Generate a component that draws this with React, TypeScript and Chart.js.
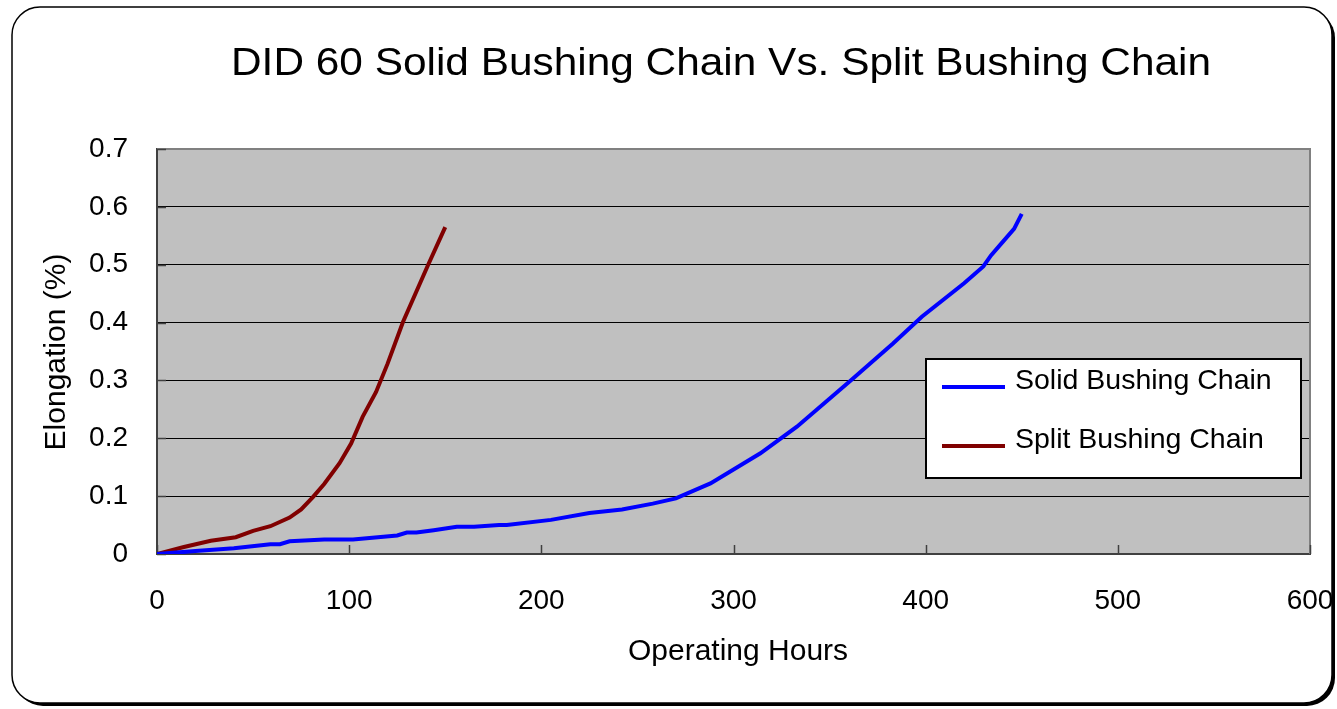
import React, { useEffect, useRef } from "react";
import { Chart, registerables } from "chart.js";

Chart.register(...registerables);

const chartTitle = "DID 60 Solid Bushing Chain Vs. Split Bushing Chain";
const xAxisTitle = "Operating Hours";
const yAxisTitle = "Elongation (%)";

const solidLabel = "Solid Bushing Chain";
const splitLabel = "Split Bushing Chain";

const solidHours = [0, 20, 40, 59, 64, 69, 87, 102, 125, 130, 135, 144, 156, 165, 178, 182, 205, 225, 242, 258, 270, 288, 314, 333, 361, 383, 398, 420, 430, 434, 440, 446, 450];
const solidElong = [0, 0.005, 0.01, 0.017, 0.017, 0.022, 0.025, 0.025, 0.032, 0.037, 0.037, 0.041, 0.047, 0.047, 0.05, 0.05, 0.059, 0.071, 0.077, 0.087, 0.096, 0.122, 0.174, 0.22, 0.3, 0.364, 0.41, 0.468, 0.497, 0.516, 0.539, 0.562, 0.588];

const splitHours = [0, 14, 28, 41, 50, 59, 69, 75, 81, 87, 95, 101, 107, 114, 120, 128, 141, 150];
const splitElong = [0, 0.012, 0.023, 0.029, 0.04, 0.048, 0.063, 0.077, 0.098, 0.121, 0.157, 0.191, 0.237, 0.28, 0.329, 0.401, 0.499, 0.565];

const xMin = 0;
const xMax = 600;
const xStep = 100;
const yMin = 0;
const yMax = 0.7;
const yStep = 0.1;

const FONT = '"Liberation Sans", Arial, sans-serif';
const W = 1337;
const H = 709;

function roundRect(ctx: CanvasRenderingContext2D, x: number, y: number, w: number, h: number, r: number) {
  ctx.beginPath();
  ctx.moveTo(x + r, y);
  ctx.lineTo(x + w - r, y);
  ctx.arcTo(x + w, y, x + w, y + r, r);
  ctx.lineTo(x + w, y + h - r);
  ctx.arcTo(x + w, y + h, x + w - r, y + h, r);
  ctx.lineTo(x + r, y + h);
  ctx.arcTo(x, y + h, x, y + h - r, r);
  ctx.lineTo(x, y + r);
  ctx.arcTo(x, y, x + r, y, r);
  ctx.closePath();
}

const decorPlugin = {
  id: "decor",
  beforeDraw(chart: any) {
    const ctx = chart.ctx as CanvasRenderingContext2D;
    const area = chart.chartArea;
    ctx.save();
    ctx.fillStyle = "#ffffff";
    ctx.fillRect(0, 0, W, H);
    ctx.fillStyle = "#000000";
    roundRect(ctx, 15, 10, 1320, 696, 28);
    ctx.fill();
    roundRect(ctx, 12, 7, 1320, 696, 28);
    ctx.fillStyle = "#ffffff";
    ctx.fill();
    ctx.lineWidth = 1.5;
    ctx.strokeStyle = "#000000";
    ctx.stroke();
    ctx.fillStyle = "#c0c0c0";
    ctx.fillRect(area.left, area.top, area.right - area.left, area.bottom - area.top);
    ctx.restore();
  },
  beforeDatasetsDraw(chart: any) {
    const ctx = chart.ctx as CanvasRenderingContext2D;
    const area = chart.chartArea;
    const xs = chart.scales.x;
    const ys = chart.scales.y;
    ctx.save();
    ctx.strokeStyle = "#808080";
    ctx.lineWidth = 2;
    ctx.beginPath();
    ctx.moveTo(area.left, area.top);
    ctx.lineTo(area.right, area.top);
    ctx.lineTo(area.right, area.bottom);
    ctx.stroke();
    ctx.strokeStyle = "#404040";
    ctx.lineWidth = 1.5;
    ctx.beginPath();
    xs.ticks.forEach((t: any) => {
      const px = Math.round(xs.getPixelForValue(t.value)) + 0.5;
      ctx.moveTo(px, area.bottom);
      ctx.lineTo(px, area.bottom - 9);
    });
    ys.ticks.forEach((t: any) => {
      const py = Math.round(ys.getPixelForValue(t.value)) + 0.5;
      ctx.moveTo(area.left, py);
      ctx.lineTo(area.left + 9, py);
    });
    ctx.stroke();
    ctx.restore();
  },
  afterDraw(chart: any) {
    const ctx = chart.ctx as CanvasRenderingContext2D;
    ctx.save();
    ctx.fillStyle = "#000000";
    ctx.textBaseline = "middle";
    ctx.textAlign = "center";
    ctx.font = `38px ${FONT}`;
    const tw = ctx.measureText(chartTitle).width;
    ctx.save();
    ctx.translate(721, 65);
    ctx.scale(980 / tw, 1);
    ctx.fillText(chartTitle, 0, 0);
    ctx.restore();
    ctx.font = `30px ${FONT}`;
    ctx.fillText(xAxisTitle, 738, 652);
    ctx.save();
    ctx.translate(57, 352);
    ctx.rotate(-Math.PI / 2);
    ctx.fillText(yAxisTitle, 0, 0);
    ctx.restore();
    const lx = 926, ly = 359, lw = 375, lh = 119;
    ctx.fillStyle = "#ffffff";
    ctx.fillRect(lx, ly, lw, lh);
    ctx.strokeStyle = "#000000";
    ctx.lineWidth = 2;
    ctx.strokeRect(lx, ly, lw, lh);
    const items = chart.data.datasets.map((d: any) => ({ label: d.label, color: d.borderColor }));
    const rows = [385, 444];
    ctx.textAlign = "left";
    ctx.font = `28.5px ${FONT}`;
    items.forEach((it: any, i: number) => {
      const y = rows[i];
      ctx.strokeStyle = it.color;
      ctx.lineWidth = 4;
      ctx.beginPath();
      ctx.moveTo(942, y + 2);
      ctx.lineTo(1005, y + 2);
      ctx.stroke();
      ctx.fillStyle = "#000000";
      ctx.fillText(it.label, 1015, y - 4);
    });
    ctx.restore();
  },
};

export default function App() {
  const ref = useRef<HTMLCanvasElement | null>(null);
  useEffect(() => {
    if (!ref.current) return;
    const chart = new Chart(ref.current, {
      type: "line",
      data: {
        datasets: [
          {
            label: solidLabel,
            data: solidHours.map((h, i) => ({ x: h, y: solidElong[i] })),
            borderColor: "#0000ff",
            backgroundColor: "#0000ff",
            borderWidth: 4,
            pointRadius: 0,
            tension: 0,
            fill: false,
          },
          {
            label: splitLabel,
            data: splitHours.map((h, i) => ({ x: h, y: splitElong[i] })),
            borderColor: "#800000",
            backgroundColor: "#800000",
            borderWidth: 4,
            pointRadius: 0,
            tension: 0,
            fill: false,
          },
        ],
      },
      options: {
        responsive: false,
        animation: false,
        events: [],
        layout: { padding: { left: 0, top: 149, right: 27, bottom: 0 } },
        plugins: {
          legend: { display: false },
          title: { display: false },
          tooltip: { enabled: false },
        },
        scales: {
          x: {
            type: "linear",
            min: xMin,
            max: xMax,
            afterFit: (s: any) => {
              s.height = H - 554;
              s.paddingLeft = 0;
              s.paddingRight = 0;
            },
            ticks: {
              stepSize: xStep,
              padding: 30,
              color: "#000000",
              font: { family: FONT, size: 28 },
              maxRotation: 0,
            },
            grid: { display: false, drawTicks: false },
            border: { display: true, color: "#404040", width: 2 },
          },
          y: {
            type: "linear",
            min: yMin,
            max: yMax,
            afterFit: (s: any) => {
              s.width = 157;
              s.paddingTop = 0;
              s.paddingBottom = 0;
            },
            ticks: {
              stepSize: yStep,
              padding: 29,
              color: "#000000",
              font: { family: FONT, size: 28 },
              callback: (v: any) => String(Math.round(Number(v) * 10) / 10),
            },
            grid: { color: "#000000", lineWidth: 1, drawTicks: false },
            border: { display: true, color: "#404040", width: 2 },
          },
        },
      },
      plugins: [decorPlugin],
    } as any);
    return () => chart.destroy();
  }, []);
  return (
    <div style={{ position: "absolute", left: 0, top: 0, width: W, height: H }}>
      <canvas ref={ref} width={W} height={H} style={{ display: "block" }} />
    </div>
  );
}
